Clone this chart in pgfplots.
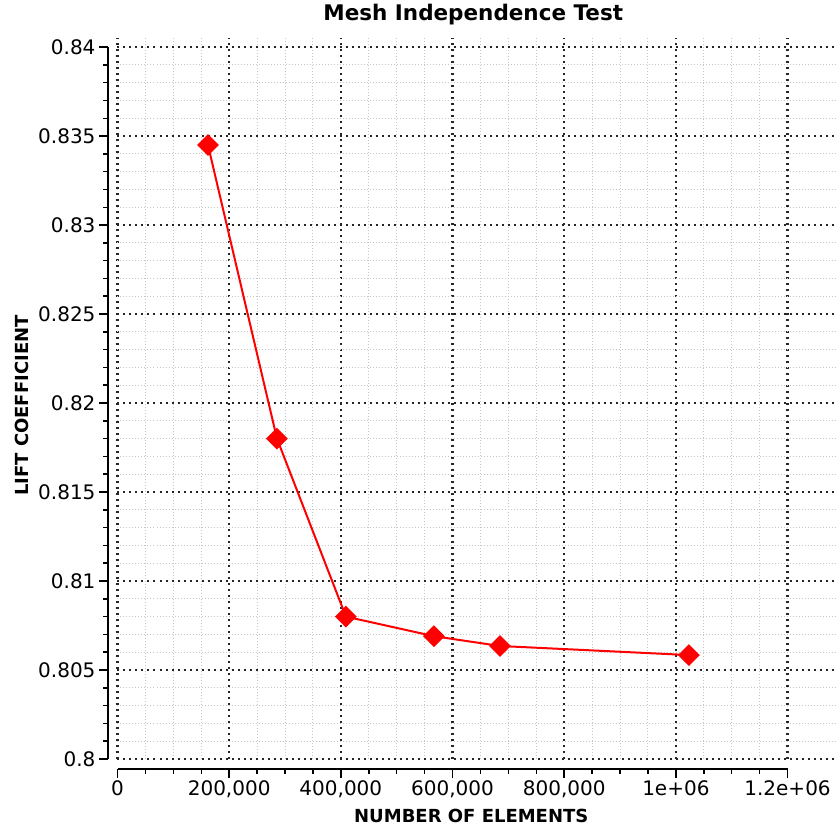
\documentclass[border=0pt]{standalone}
\usepackage{fontspec}
\setmainfont{DejaVu Sans}
\usepackage{pgfplots}
\pgfplotsset{compat=1.18}
\begin{document}
\begin{tikzpicture}
\begin{axis}[
  scale only axis, width=717.5pt, height=721pt,
  xmin=0, xmax=1285000, ymin=0.8, ymax=0.84051,
  axis x line=bottom, axis y line=left,
  axis x line shift=9.5pt, axis y line shift=9.5pt,
  axis line style={draw=none,-},
  clip=false,
  scaled x ticks=false, scaled y ticks=false,
  xtick={0,200000,400000,600000,800000,1000000,1200000},
  xticklabels={0,{200,000},{400,000},{600,000},{800,000},1e+06,1.2e+06},
  ytick={0.8,0.805,0.81,0.815,0.82,0.825,0.83,0.835,0.84},
  yticklabels={0.8,0.805,0.81,0.815,0.82,0.825,0.83,0.835,0.84},
  minor x tick num=3, minor y tick num=4,
  tick align=outside,
  major tick length=9pt, minor tick length=5pt,
  tick style={line width=1.5pt, black},
  tick label style={font=\fontsize{20}{24}\selectfont},
  grid=both,
  major grid style={dash pattern=on 2pt off 4pt, line width=2.2pt, black!85},
  minor grid style={dash pattern=on 1pt off 2pt, line width=1pt, black!22},
  title={Mesh Independence Test},
  title style={font=\bfseries\fontsize{21.5}{25}\selectfont, at={(axis description cs:0.5,1)}, anchor=base, yshift=11pt, xshift=-3pt},
  xlabel={NUMBER OF ELEMENTS},
  ylabel={LIFT COEFFICIENT},
  every axis x label/.style={font=\bfseries\fontsize{18}{21}\selectfont, at={(axis description cs:0.5,0)}, anchor=base, yshift=-63.5pt, xshift=-5pt},
  every axis y label/.style={font=\bfseries\fontsize{18}{21}\selectfont, at={(axis description cs:0,0.5)}, rotate=90, anchor=base, xshift=-7pt, yshift=89pt},
]
\addplot[red, line width=2pt, mark=square*, mark size=6.7pt, mark options={rotate=45, solid, fill=red}]
  coordinates {
  (162000,0.8345)
  (285600,0.8180)
  (409100,0.8080)
  (566700,0.8069)
  (684900,0.80635)
  (1023300,0.80584)
  };
\coordinate (o) at (axis cs:0,0.8);
\coordinate (xe) at (axis cs:1200000,0.8);
\coordinate (ye) at (axis cs:0,0.84);
\coordinate (tr) at (rel axis cs:1,1);
\end{axis}
\draw[line width=2pt, black] ([yshift=-9.5pt]o) -- ([yshift=-9.5pt]xe);
\draw[line width=2pt, black] ([xshift=-9.5pt]o) -- ([xshift=-9.5pt]ye);
\pgfresetboundingbox
\path ([shift={(-117.5pt,-68pt)}]o) rectangle ([shift={(2pt,38pt)}]tr);
\end{tikzpicture}
\end{document}
